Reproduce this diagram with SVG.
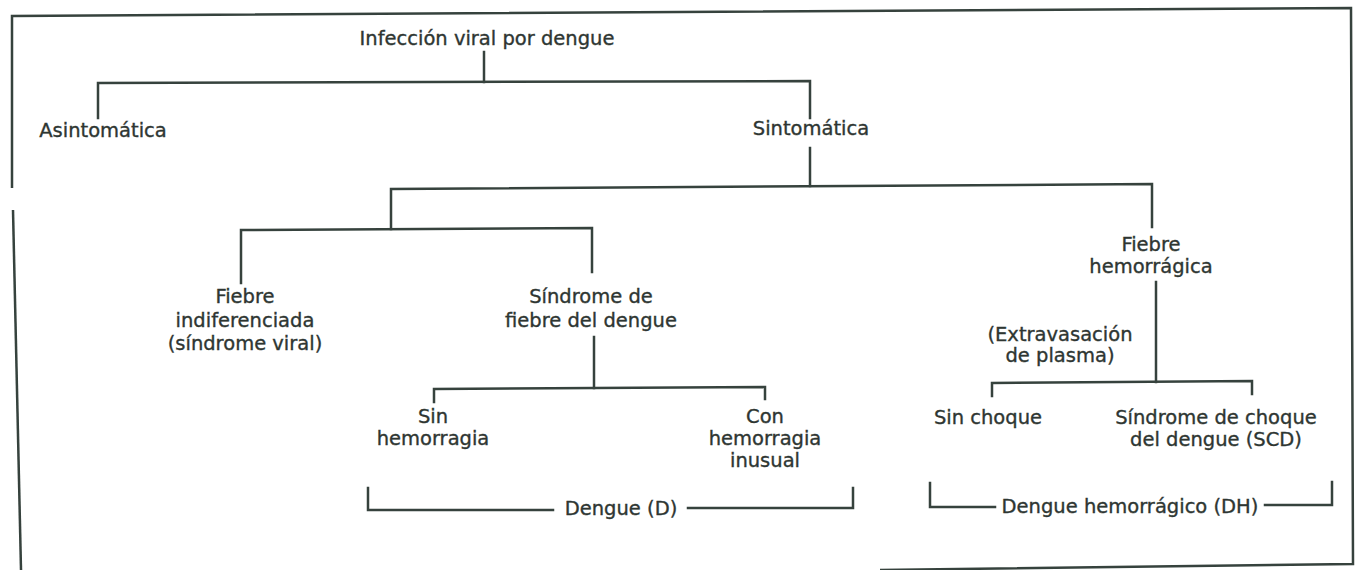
<svg xmlns="http://www.w3.org/2000/svg" width="1365" height="570" viewBox="0 0 1365 570">
<style>
.t{font-family:"DejaVu Sans","Liberation Sans",sans-serif;font-size:19.5px;fill:#2e3632;stroke:#2e3632;stroke-width:0.35;text-anchor:middle}
.c{fill:none;stroke:#36423d;stroke-width:2.5;stroke-linecap:square}
.f{fill:none;stroke:#36423d;stroke-width:2.5}
</style>
<rect width="1365" height="570" fill="#ffffff"/>
<g id="frame" class="f">
<path d="M12,188 V16 L1351,8 L1353,564 L880,570"/>
<path d="M13,210 L21,570"/>
</g>
<g id="connectors" class="c">
<path d="M484,52 V82"/>
<path d="M98,118 V83 L810,81 V118"/>
<path d="M810,148 V186"/>
<path d="M391,229 V189 L1152,184 V227"/>
<path d="M241,283 V230 L592,228 V272"/>
<path d="M594,337 V388"/>
<path d="M434,402 V389 L765,387 V399"/>
<path d="M1156,282 V382"/>
<path d="M992,396 V383 L1252,381 V394"/>
<path d="M368,488 V510 H553"/>
<path d="M688,508 H853 V488"/>
<path d="M930,483 V507 H995"/>
<path d="M1265,505 H1332 V482"/>
</g>
<g id="n-infeccion"><text class="t" x="487" y="45">Infección viral por dengue</text></g>
<g id="n-asintomatica"><text class="t" x="103" y="137">Asintomática</text></g>
<g id="n-sintomatica"><text class="t" x="811" y="135">Sintomática</text></g>
<g id="n-fiebre-indif"><text class="t" x="245" y="303">Fiebre</text><text class="t" x="245" y="327">indiferenciada</text><text class="t" x="245" y="350">(síndrome viral)</text></g>
<g id="n-sindrome-fiebre"><text class="t" x="591" y="303">Síndrome de</text><text class="t" x="591" y="327">fiebre del dengue</text></g>
<g id="n-sin-hemorragia"><text class="t" x="433" y="423">Sin</text><text class="t" x="433" y="445">hemorragia</text></g>
<g id="n-con-hemorragia"><text class="t" x="765" y="423">Con</text><text class="t" x="765" y="445">hemorragia</text><text class="t" x="765" y="467">inusual</text></g>
<g id="n-fiebre-hem"><text class="t" x="1151" y="251">Fiebre</text><text class="t" x="1151" y="273">hemorrágica</text></g>
<g id="n-extravasacion"><text class="t" x="1060" y="341">(Extravasación</text><text class="t" x="1060" y="362">de plasma)</text></g>
<g id="n-sin-choque"><text class="t" x="988" y="424">Sin choque</text></g>
<g id="n-sindrome-choque"><text class="t" x="1216" y="424">Síndrome de choque</text><text class="t" x="1216" y="446">del dengue (SCD)</text></g>
<g id="n-dengue"><text class="t" x="621" y="515">Dengue (D)</text></g>
<g id="n-dengue-hem"><text class="t" x="1130" y="513">Dengue hemorrágico (DH)</text></g>
</svg>
